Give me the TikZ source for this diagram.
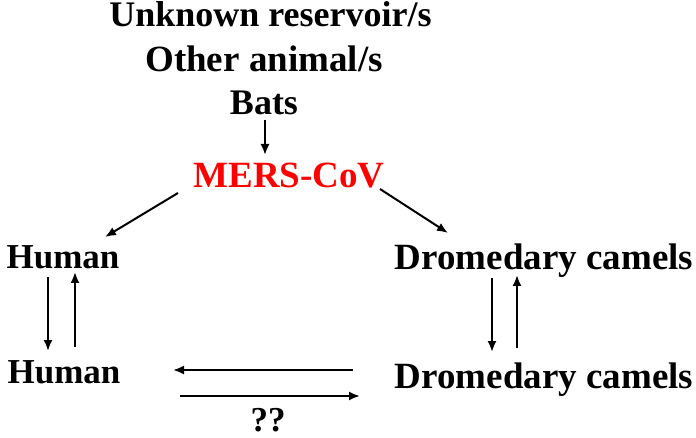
\documentclass[tikz,border=0pt]{standalone}
\usepackage{fontspec}
\setmainfont{Liberation Serif}
\usetikzlibrary{arrows.meta}
\begin{document}
\begin{tikzpicture}[x=1pt,y=-1pt,
  lbl/.style={anchor=base,inner sep=0pt,font=\bfseries\fontsize{#1}{40}\selectfont},
  lbl/.default=36,
  conn/.style={line width=2pt,-{Latex[length=11pt,width=9pt]}}]
\useasboundingbox[fill=white] (0,0) rectangle (696,438);
\node[lbl=36] (unk) at (270.5,27) {Unknown reservoir/s};
\node[lbl=37] (oth) at (264,72) {Other animal/s};
\node[lbl=36] (bats) at (264,115) {Bats};
\node[lbl=37,text={rgb,255:red,255;green,0;blue,0}] (mers) at (289,188) {MERS-CoV};
\node[lbl=35] (h1) at (63,269) {Human};
\node[lbl=37] (d1) at (544,270) {Dromedary camels};
\node[lbl=35] (h2) at (64,383) {Human};
\node[lbl=37] (d2) at (544,388) {Dromedary camels};
\node[lbl=35] (qq) at (268,431) {??};
% endpoints
\coordinate (bm1) at (265,120); \coordinate (bm2) at (265,155);
\coordinate (mh1) at (178,193); \coordinate (mh2) at (105,237);
\coordinate (md1) at (380,189); \coordinate (md2) at (448,233);
\coordinate (hd1) at (48,277);  \coordinate (hd2) at (48,351);
\coordinate (hu1) at (75,347);  \coordinate (hu2) at (75,272);
\coordinate (dd1) at (492,278); \coordinate (dd2) at (492,352);
\coordinate (du1) at (517,348); \coordinate (du2) at (517,275);
\coordinate (l1) at (353,370);  \coordinate (l2) at (173,370);
\coordinate (r1) at (180,396);  \coordinate (r2) at (360,396);
\draw[conn] (bm1) -- (bm2);
\draw[conn] (mh1) -- (mh2);
\draw[conn] (md1) -- (md2);
\draw[conn] (hd1) -- (hd2);
\draw[conn] (hu1) -- (hu2);
\draw[conn] (dd1) -- (dd2);
\draw[conn] (du1) -- (du2);
\draw[conn] (l1) -- (l2);
\draw[conn] (r1) -- (r2);
\end{tikzpicture}
\end{document}
